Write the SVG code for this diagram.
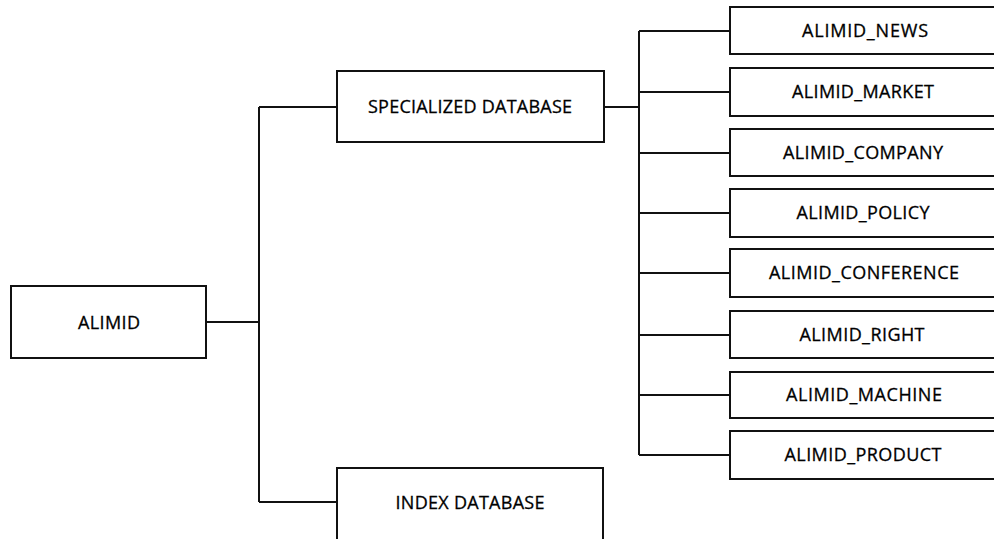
<svg xmlns="http://www.w3.org/2000/svg" width="994" height="539" viewBox="0 0 994 539">
<style>
.box{fill:#fff;stroke:#111;stroke-width:2}
.lbl{font-family:"Open Sans","Liberation Sans",Arial,sans-serif;font-size:18px;fill:#000;text-anchor:middle;stroke:#000;stroke-width:0.3}
.con{fill:none;stroke:#111;stroke-width:2}
</style>
<rect width="994" height="539" fill="#fff"/>
<g id="connectors">
<path class="con" d="M206 322H259M259 107V502M259 107H337M259 502H337"/>
<path class="con" d="M604 107H639M639 31V455"/>
<path class="con" d="M639 31H730M639 92H730M639 153H730M639 213H730M639 273H730M639 335H730M639 395H730M639 455H730"/>
</g>
<g id="alimid"><rect class="box" x="11" y="286" width="195" height="72"/><text class="lbl" x="109" y="329" textLength="62">ALIMID</text></g>
<g id="specialized"><rect class="box" x="337" y="71" width="267" height="71"/><text class="lbl" x="470" y="113" textLength="204">SPECIALIZED DATABASE</text></g>
<g id="index"><rect class="box" x="337" y="468" width="266" height="80"/><text class="lbl" x="470" y="509" textLength="149">INDEX DATABASE</text></g>
<g id="news"><rect class="box" x="730" y="7" width="267" height="47"/><text class="lbl" x="865" y="37" textLength="126">ALIMID_NEWS</text></g>
<g id="market"><rect class="box" x="730" y="68" width="267" height="48"/><text class="lbl" x="863" y="98" textLength="142">ALIMID_MARKET</text></g>
<g id="company"><rect class="box" x="730" y="129" width="267" height="47"/><text class="lbl" x="863" y="159" textLength="160">ALIMID_COMPANY</text></g>
<g id="policy"><rect class="box" x="730" y="189" width="267" height="48"/><text class="lbl" x="863" y="219" textLength="133">ALIMID_POLICY</text></g>
<g id="conference"><rect class="box" x="730" y="249" width="267" height="48"/><text class="lbl" x="864" y="279" textLength="190">ALIMID_CONFERENCE</text></g>
<g id="right"><rect class="box" x="730" y="311" width="267" height="47"/><text class="lbl" x="862" y="341" textLength="125">ALIMID_RIGHT</text></g>
<g id="machine"><rect class="box" x="730" y="372" width="267" height="46"/><text class="lbl" x="864" y="401" textLength="156">ALIMID_MACHINE</text></g>
<g id="product"><rect class="box" x="730" y="431" width="267" height="48"/><text class="lbl" x="863" y="461" textLength="157">ALIMID_PRODUCT</text></g>
</svg>
